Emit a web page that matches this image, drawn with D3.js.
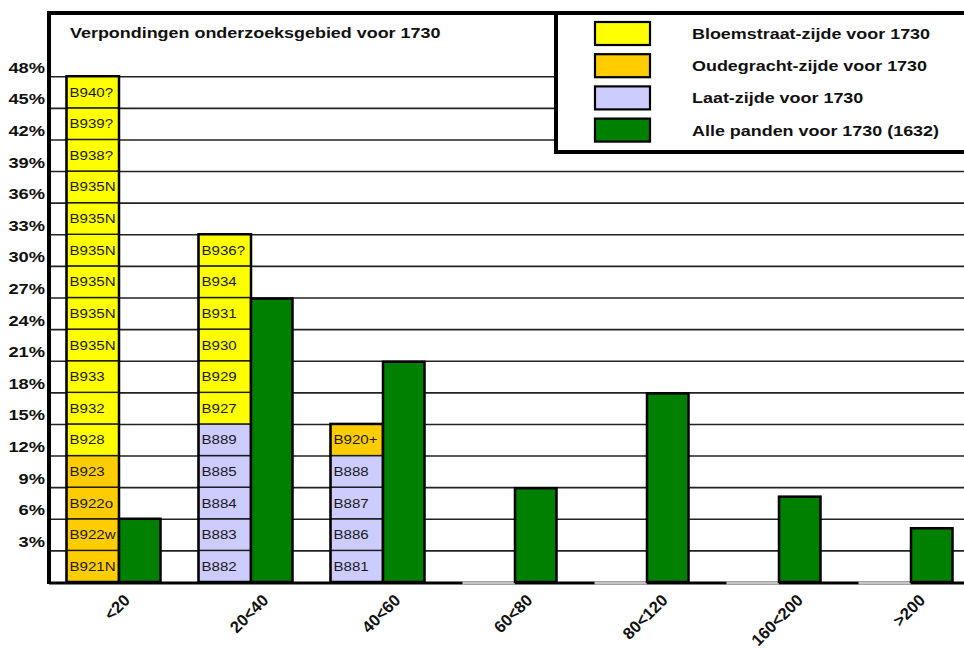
<!DOCTYPE html>
<html>
<head>
<meta charset="utf-8">
<script src="https://cdn.jsdelivr.net/npm/d3@7"></script>
<style>
  body { margin: 0; background: #fff; }
  svg { display: block; font-family: "Liberation Sans", Arial, sans-serif; }
</style>
</head>
<body>
<div id="chart"></div>
<script>
// categories on the x axis (verponding classes)
const categories = ["<20", "20<40", "40<60", "60<80", "80<120", "160<200", ">200"];

// legend series
const seriesNames = ["Bloemstraat-zijde voor 1730", "Oudegracht-zijde voor 1730", "Laat-zijde voor 1730", "Alle panden voor 1730 (1632)"];
const seriesColors = ["#ffff00", "#ffcc00", "#ccccff", "#008000"];

// houses per class, bottom up: [label, series index]
const housesLt20 = [
  ["B921N", 1], ["B922w", 1], ["B922o", 1], ["B923", 1],
  ["B928", 0], ["B932", 0], ["B933", 0],
  ["B935N", 0], ["B935N", 0], ["B935N", 0], ["B935N", 0], ["B935N", 0], ["B935N", 0],
  ["B938?", 0], ["B939?", 0], ["B940?", 0]
];
const houses20to40 = [
  ["B882", 2], ["B883", 2], ["B884", 2], ["B885", 2], ["B889", 2],
  ["B927", 0], ["B929", 0], ["B930", 0], ["B931", 0], ["B934", 0], ["B936?", 0]
];
const houses40to60 = [
  ["B881", 2], ["B886", 2], ["B887", 2], ["B888", 2], ["B920+", 1]
];
const housesPerClass = [housesLt20, houses20to40, houses40to60, [], [], [], []];
const pctPerHouse = 3;

// all houses before 1730, percent per class
const allePanden = [6.0, 26.9, 20.9, 8.9, 17.9, 8.1, 5.1];

const yTicks = [3, 6, 9, 12, 15, 18, 21, 24, 27, 30, 33, 36, 39, 42, 45, 48];

const W = 964, H = 648;
const plotLeft = 49, plotTop = 13, plotBottom = 582, plotRight = 973;
const sx = 1.18; // text in the picture is stretched horizontally

const svg = d3.select("#chart").append("svg")
    .attr("width", W)
    .attr("height", H);

const x = d3.scaleBand().domain(categories).range([plotLeft, plotRight]);
const y = d3.scaleLinear().domain([0, 54]).range([plotBottom, plotTop]);

// gridlines + tick labels
const yAxis = svg.append("g")
    .attr("transform", `translate(${plotLeft},0)`)
    .call(d3.axisLeft(y).tickValues(yTicks).tickSize(-(plotRight - plotLeft)).tickFormat(d => d + "%"));
yAxis.select(".domain").remove();
yAxis.selectAll(".tick line")
    .attr("stroke", "#222")
    .attr("stroke-width", 1.6);
yAxis.selectAll(".tick text")
    .attr("x", null).attr("dy", null)
    .attr("text-anchor", "end")
    .attr("transform", `translate(-4,-4) scale(${sx},1)`)
    .attr("font-size", 15.5)
    .attr("font-weight", "bold")
    .attr("font-family", "Liberation Sans, Arial, sans-serif")
    .attr("fill", "#111");

// frame
svg.append("line").attr("x1", plotLeft).attr("x2", plotLeft).attr("y1", plotTop - 2).attr("y2", plotBottom + 2)
    .attr("stroke", "#000").attr("stroke-width", 4);
svg.append("line").attr("x1", plotLeft - 2).attr("x2", W).attr("y1", plotTop).attr("y2", plotTop)
    .attr("stroke", "#000").attr("stroke-width", 4);
svg.append("line").attr("x1", plotLeft).attr("x2", W).attr("y1", plotBottom + 1).attr("y2", plotBottom + 1)
    .attr("stroke", "#000").attr("stroke-width", 3);

// stacked house cells
const stackX0 = 17.5, stackW = 52.5;
const greenX0 = 70, greenW = 41.5;

categories.forEach((c, i) => {
  const houses = housesPerClass[i];
  const g = svg.append("g");
  if (houses.length === 0) {
    g.append("line")
      .attr("x1", x(c) + stackX0).attr("x2", x(c) + stackX0 + stackW)
      .attr("y1", plotBottom + 1).attr("y2", plotBottom + 1)
      .attr("stroke", "#c4c4c4").attr("stroke-width", 3);
    return;
  }
  g.selectAll("rect")
    .data(houses)
    .join("rect")
      .attr("x", x(c) + stackX0)
      .attr("width", stackW)
      .attr("y", (d, k) => y((k + 1) * pctPerHouse))
      .attr("height", (d, k) => y(k * pctPerHouse) - y((k + 1) * pctPerHouse))
      .attr("fill", d => seriesColors[d[1]])
      .attr("stroke", "#1a1a1a")
      .attr("stroke-width", 1.4);
  g.selectAll("text")
    .data(houses)
    .join("text")
      .attr("transform", (d, k) => `translate(${x(c) + stackX0 + 3},${y((k + 0.5) * pctPerHouse)}) scale(${sx},1)`)
      .attr("dy", "0.36em")
      .attr("font-size", 12.8)
      .attr("fill", "#1a1a1a")
      .text(d => d[0]);
  g.append("rect")
    .attr("x", x(c) + stackX0)
    .attr("width", stackW)
    .attr("y", y(houses.length * pctPerHouse))
    .attr("height", plotBottom - y(houses.length * pctPerHouse))
    .attr("fill", "none")
    .attr("stroke", "#000")
    .attr("stroke-width", 2.5);
});

// green bars: all houses
svg.append("g")
  .selectAll("rect")
  .data(allePanden)
  .join("rect")
    .attr("x", (d, i) => x(categories[i]) + greenX0)
    .attr("width", greenW)
    .attr("y", d => y(d))
    .attr("height", d => plotBottom - y(d))
    .attr("fill", seriesColors[3])
    .attr("stroke", "#000")
    .attr("stroke-width", 2.5);

// x labels, rotated
const xAxis = svg.append("g")
    .attr("transform", `translate(0,${plotBottom})`)
    .call(d3.axisBottom(x).tickSize(0));
xAxis.select(".domain").remove();
xAxis.selectAll(".tick text")
    .attr("y", null).attr("dy", "0.35em")
    .attr("text-anchor", "middle")
    .attr("font-size", 16.5)
    .attr("font-weight", "bold")
    .attr("font-family", "Liberation Sans, Arial, sans-serif")
    .attr("fill", "#111")
    .each(function() {
      const L = this.getComputedTextLength();
      const half = (L + 12) * Math.SQRT1_2 / 2;
      d3.select(this).attr("transform", `translate(2,${11 + half}) rotate(-45)`);
    });

// title
svg.append("text")
    .attr("transform", `translate(70,37.5) scale(${sx},1)`)
    .attr("font-size", 15.2)
    .attr("font-weight", "bold")
    .attr("fill", "#111")
    .text("Verpondingen onderzoeksgebied voor 1730");

// legend
const legend = svg.append("g");
legend.append("rect")
    .attr("x", 556).attr("y", plotTop)
    .attr("width", W - 556 + 10).attr("height", 152 - plotTop)
    .attr("fill", "#fff")
    .attr("stroke", "#000")
    .attr("stroke-width", 4);
const item = legend.selectAll("g.item")
  .data(seriesNames)
  .join("g")
    .attr("class", "item")
    .attr("transform", (d, i) => `translate(0,${22 + i * 32.2})`);
item.append("rect")
    .attr("x", 595).attr("y", 0)
    .attr("width", 55).attr("height", 23)
    .attr("fill", (d, i) => seriesColors[i])
    .attr("stroke", "#000")
    .attr("stroke-width", 2.2);
item.append("text")
    .attr("transform", `translate(692,11.5) scale(${sx},1)`)
    .attr("dy", "0.36em")
    .attr("font-size", 15.2)
    .attr("font-weight", "bold")
    .attr("fill", "#111")
    .text(d => d);
</script>
</body>
</html>
